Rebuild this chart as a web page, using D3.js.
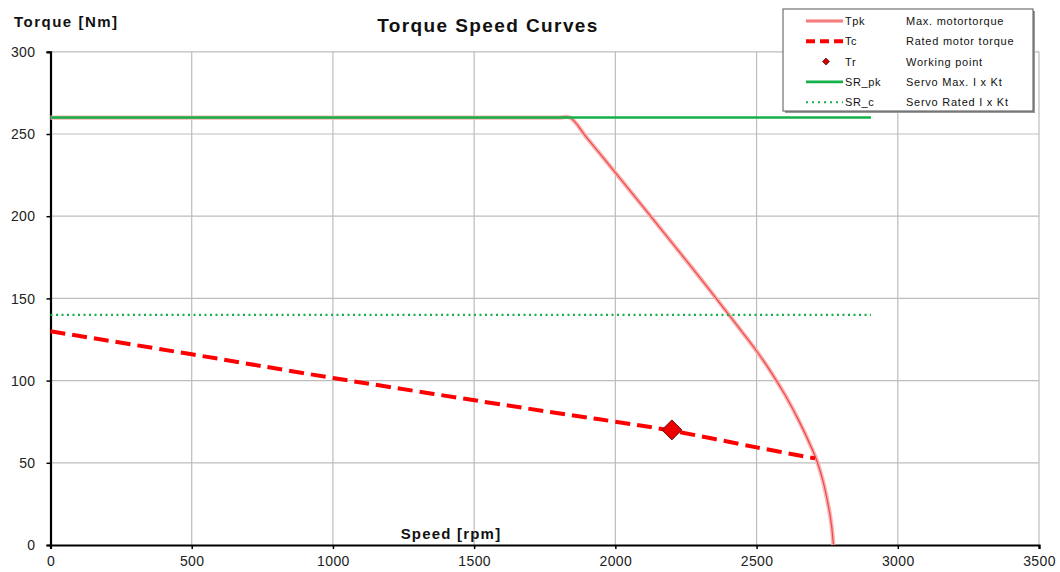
<!DOCTYPE html>
<html><head><meta charset="utf-8">
<script src="https://cdn.jsdelivr.net/npm/d3@7"></script>
<style>body{margin:0;background:#fff}svg{display:block}text{font-family:"Liberation Sans",Arial,sans-serif}</style>
</head><body><svg id="c" width="1060" height="572"></svg>
<script>
const xTicks = [0,500,1000,1500,2000,2500,3000,3500];
const yTicks = [0,50,100,150,200,250,300];
const tpkSpeed = [0,1800,1839,1900,2000,2100,2200,2300,2400,2450,2500,2550,2600,2650,2700,2715,2735,2754,2765,2772];
const tpkTorque = [260,260,260,247.5,226.5,205.3,184,162.5,140.5,129.3,118,105.5,91.5,75.5,57,50.5,39,24,12.5,0];
const tcSpeed = [0,500,1000,1804,2000,2200,2500,2707];
const tcTorque = [130,116,101.6,80,75,69.5,59.4,52.7];
const trSpeed = [2200];
const trTorque = [70];
const srSpeed = [0,2905];
const srPkTorque = [260,260];
const srCTorque = [140,140];
const legendKeys = ["Tpk","Tc","Tr","SR_pk","SR_c"];
const legendDesc = ["Max. motortorque","Rated motor torque","Working point","Servo Max. I x Kt","Servo Rated I x Kt"];

const svg = d3.select("#c");
const x = d3.scaleLinear().domain([0,3500]).range([50.5,1039]);
const y = d3.scaleLinear().domain([0,300]).range([545,51.8]);
const red = "#ff0000", green = "#14b04a";

// grid
svg.append("g").selectAll("line").data(xTicks.slice(1)).join("line")
  .attr("x1",d=>x(d)).attr("x2",d=>x(d)).attr("y1",y(0)).attr("y2",y(300))
  .attr("stroke","#bdbdbd").attr("stroke-width",1.2);
svg.append("g").selectAll("line").data(yTicks.slice(1)).join("line")
  .attr("x1",x(0)).attr("x2",x(3500)).attr("y1",d=>y(d)).attr("y2",d=>y(d))
  .attr("stroke","#bdbdbd").attr("stroke-width",1.2);

// axes
const xa = svg.append("g").attr("transform",`translate(0,${y(0)})`)
  .call(d3.axisBottom(x).tickValues(xTicks).tickSize(4).tickPadding(7).tickFormat(d3.format("d")));
const ya = svg.append("g").attr("transform",`translate(${x(0)},0)`)
  .call(d3.axisLeft(y).tickValues(yTicks).tickSize(4).tickPadding(11).tickFormat(d3.format("d")));
[xa,ya].forEach(a=>{
  a.select(".domain").attr("stroke","#000").attr("stroke-width",2.2);
  a.selectAll(".tick line").attr("stroke","#000").attr("stroke-width",1.5);
  a.selectAll(".tick text").attr("font-size",14).attr("letter-spacing",0.4).attr("fill","#222");
});
ya.selectAll(".tick text").attr("dy","0.33em");

const zip = (a,b)=>a.map((v,i)=>[v,b[i]]);
const smooth = d3.line().x(d=>x(d[0])).y(d=>y(d[1])).curve(d3.curveCatmullRom.alpha(0.5));
const straight = d3.line().x(d=>x(d[0])).y(d=>y(d[1]));

// Tpk
const tpkData = zip(tpkSpeed,tpkTorque);
svg.append("path").datum(tpkData).attr("d",smooth)
  .attr("fill","none").attr("stroke","#f9b3b3").attr("stroke-width",4.2);
svg.append("path").datum(tpkData).attr("d",smooth)
  .attr("fill","none").attr("stroke","#f04848").attr("stroke-width",1.2);

// Tc
svg.append("path").datum(zip(tcSpeed,tcTorque)).attr("d",smooth)
  .attr("fill","none").attr("stroke",red).attr("stroke-width",4).attr("stroke-dasharray","15,7");

// Tr
svg.selectAll(".tr").data(zip(trSpeed,trTorque)).join("path").attr("class","tr")
  .attr("transform",d=>`translate(${x(d[0])},${y(d[1])})`)
  .attr("d","M0,-10L10,0L0,10L-10,0Z").attr("fill","#ee0000").attr("stroke","#5a1a1a").attr("stroke-width",1);

// SR lines
svg.append("path").datum(zip(srSpeed,srPkTorque)).attr("d",straight)
  .attr("fill","none").attr("stroke",green).attr("stroke-width",2.6);
svg.append("path").datum(zip(srSpeed,srCTorque)).attr("d",straight)
  .attr("fill","none").attr("stroke",green).attr("stroke-width",2.2).attr("stroke-dasharray","2,3.5");

// titles
svg.append("text").attr("x",488).attr("y",32).attr("text-anchor","middle")
  .attr("font-size",19).attr("letter-spacing",1.4).attr("font-weight","bold").attr("fill","#111").text("Torque Speed Curves");
svg.append("text").attr("x",14).attr("y",27).attr("font-size",15).attr("letter-spacing",1.5).attr("font-weight","bold").attr("fill","#111").text("Torque [Nm]");
svg.append("text").attr("x",451).attr("y",539).attr("text-anchor","middle")
  .attr("font-size",15).attr("letter-spacing",1.2).attr("font-weight","bold").attr("fill","#111").text("Speed [rpm]");

// legend
const lg = svg.append("g");
lg.append("rect").attr("x",785).attr("y",11).attr("width",250).attr("height",102).attr("fill","#999");
lg.append("rect").attr("x",783).attr("y",9).attr("width",250).attr("height",102).attr("fill","#fff").attr("stroke","#555").attr("stroke-width",1);
const rowY = i=>21+i*20.3;
const rows = lg.selectAll("g.r").data(legendKeys).join("g").attr("class","r")
  .attr("transform",(d,i)=>`translate(0,${rowY(i)})`);
rows.append("text").attr("x",845).attr("y",4).attr("font-size",11).attr("letter-spacing",0.6).attr("fill","#111").text(d=>d);
rows.append("text").attr("x",906).attr("y",4).attr("font-size",11).attr("letter-spacing",0.75).attr("fill","#111").text((d,i)=>legendDesc[i]);
const r0 = d3.select(rows.nodes()[0]);
r0.append("line").attr("x1",806).attr("x2",843).attr("y1",0).attr("y2",0).attr("stroke","#f9b3b3").attr("stroke-width",4);
r0.append("line").attr("x1",806).attr("x2",843).attr("y1",0).attr("y2",0).attr("stroke","#f04848").attr("stroke-width",1.1);
const r1 = d3.select(rows.nodes()[1]);
r1.append("line").attr("x1",806).attr("x2",843).attr("y1",0).attr("y2",0).attr("stroke",red).attr("stroke-width",4).attr("stroke-dasharray","9,5");
const r2 = d3.select(rows.nodes()[2]);
r2.append("path").attr("transform","translate(826,0)").attr("d","M0,-3.5L3.5,0L0,3.5L-3.5,0Z").attr("fill","#cc0000").attr("stroke","#5a1a1a").attr("stroke-width",0.8);
const r3 = d3.select(rows.nodes()[3]);
r3.append("line").attr("x1",806).attr("x2",843).attr("y1",0).attr("y2",0).attr("stroke",green).attr("stroke-width",2.6);
const r4 = d3.select(rows.nodes()[4]);
r4.append("line").attr("x1",806).attr("x2",843).attr("y1",0).attr("y2",0).attr("stroke",green).attr("stroke-width",2).attr("stroke-dasharray","2,4");
</script></body></html>
